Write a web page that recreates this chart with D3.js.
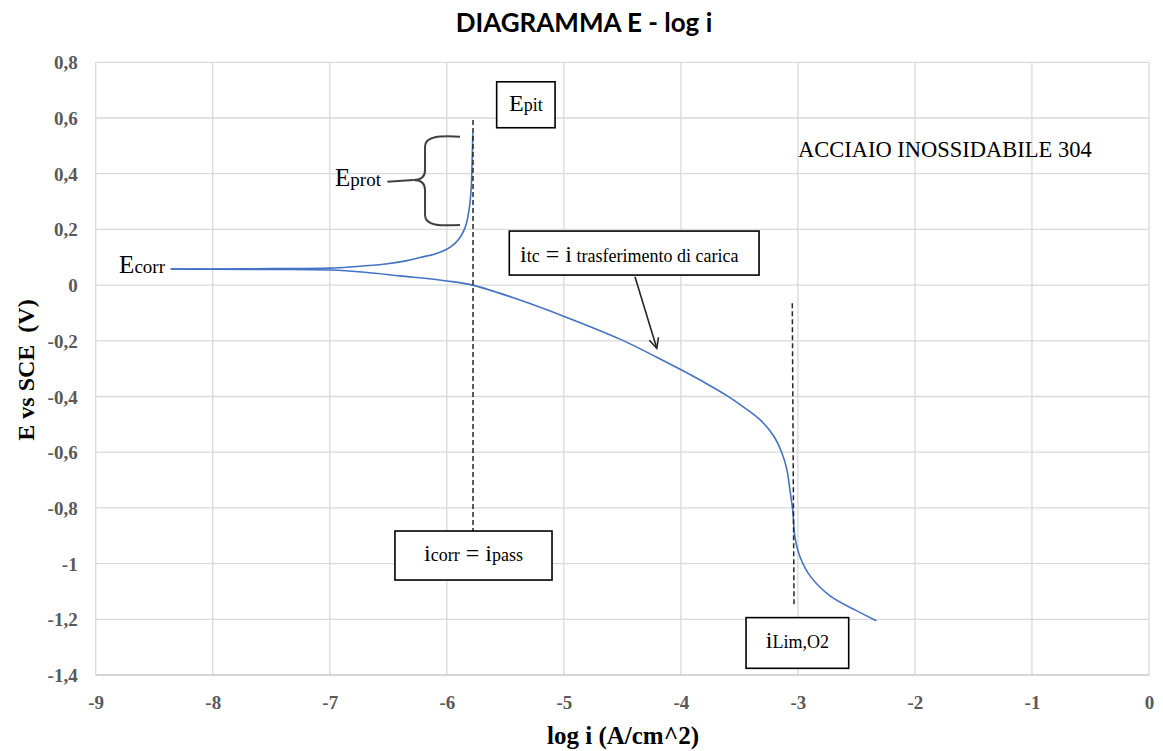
<!DOCTYPE html>
<html>
<head>
<meta charset="utf-8">
<script src="https://cdn.jsdelivr.net/npm/d3@7"></script>
<style>
  html, body { margin: 0; padding: 0; background: #ffffff; }
  svg { display: block; }
</style>
</head>
<body>
<svg id="chart" width="1163" height="751"></svg>
<script>
// ---------------- DATA ----------------
const xTicks = [-9, -8, -7, -6, -5, -4, -3, -2, -1, 0];
const yTicks = [0.8, 0.6, 0.4, 0.2, 0, -0.2, -0.4, -0.6, -0.8, -1, -1.2, -1.4];

// anodic branch (log i, E)
const anodicLogI = [-8.36, -8.0, -7.5, -7.0, -6.8, -6.54, -6.35, -6.23, -6.1, -6.0, -5.93, -5.887, -5.85, -5.83, -5.81, -5.80, -5.79, -5.787, -5.782, -5.778];
const anodicE    = [0.058, 0.058, 0.059, 0.061, 0.066, 0.075, 0.087, 0.099, 0.112, 0.129, 0.150, 0.171, 0.200, 0.225, 0.270, 0.303, 0.360, 0.399, 0.470, 0.545];

// cathodic branch (log i, E)
const cathodicLogI = [-8.36, -8.0, -7.5, -7.0, -6.7, -6.4, -6.0, -5.78, -5.4, -4.975, -4.52, -4.21, -3.99, -3.78, -3.61, -3.467, -3.32, -3.21, -3.138, -3.095, -3.067, -3.044, -3.025, -2.98, -2.896, -2.725, -2.5, -2.33];
const cathodicE    = [0.058, 0.057, 0.056, 0.054, 0.046, 0.033, 0.015, 0.0, -0.05, -0.116, -0.194, -0.258, -0.306, -0.354, -0.396, -0.437, -0.485, -0.540, -0.601, -0.661, -0.739, -0.81, -0.906, -0.978, -1.044, -1.116, -1.169, -1.205];

// reference lines
const passLineLogI = -5.776, passLineTop = 0.593, passLineBottom = -0.883;
const limLineLogI = [-3.048, -3.033], limLineE = [-0.065, -1.155];

// texts
const titleText = "DIAGRAMMA E - log i";
const xTitle = "log i (A/cm^2)";
const yTitle = "E vs SCE  (V)";
const materialText = "ACCIAIO INOSSIDABILE 304";

// ---------------- LAYOUT ----------------
const svg = d3.select("#chart");
const plot = { left: 95.7, right: 1149, top: 62.3, bottom: 675 };

const x = d3.scaleLinear().domain([-9, 0]).range([plot.left, plot.right]);
const y = d3.scaleLinear().domain([-1.4, 0.8]).range([plot.bottom, plot.top]);

const fmtY = v => String(Math.round(v * 10) / 10).replace(".", ",");
const fmtX = v => String(v);

const serif = "'Liberation Serif', 'Times New Roman', serif";

// gridlines
const grid = svg.append("g");
grid.selectAll("line.v").data(xTicks).join("line")
  .attr("x1", d => x(d)).attr("x2", d => x(d))
  .attr("y1", plot.top).attr("y2", plot.bottom)
  .attr("stroke", "#d9d9d9").attr("stroke-width", 1.3);
grid.selectAll("line.h").data(yTicks).join("line")
  .attr("x1", plot.left).attr("x2", plot.right)
  .attr("y1", d => y(d)).attr("y2", d => y(d))
  .attr("stroke", d => d === -1.4 ? "#c8c8c8" : "#d9d9d9").attr("stroke-width", 1.3);

// axes via d3 axis (labels only)
const xAxis = d3.axisBottom(x).tickValues(xTicks).tickSize(0).tickPadding(0).tickFormat(fmtX);
const gx = svg.append("g").attr("transform", `translate(0,${plot.bottom})`).call(xAxis);
gx.select(".domain").remove();
gx.selectAll("text")
  .attr("y", 34).attr("dy", 0)
  .attr("font-family", serif).attr("font-weight", "bold").attr("font-size", 19)
  .attr("fill", "#595959");

const yAxis = d3.axisLeft(y).tickValues(yTicks).tickSize(0).tickPadding(0).tickFormat(fmtY);
const gy = svg.append("g").attr("transform", `translate(${plot.left},0)`).call(yAxis);
gy.select(".domain").remove();
gy.selectAll("text")
  .attr("x", -18).attr("dy", 6.5)
  .attr("font-family", serif).attr("font-weight", "bold").attr("font-size", 19)
  .attr("fill", "#595959");

// title
svg.append("text")
  .attr("x", 584).attr("y", 32)
  .attr("text-anchor", "middle")
  .attr("font-family", "Lato, 'Open Sans', sans-serif").attr("font-weight", "bold")
  .attr("font-size", 26).attr("fill", "#000")
  .text(titleText);

// axis titles
svg.append("text")
  .attr("x", 623).attr("y", 744)
  .attr("text-anchor", "middle")
  .attr("font-family", serif).attr("font-weight", "bold").attr("font-size", 25)
  .attr("fill", "#000")
  .text(xTitle);

svg.append("text")
  .attr("transform", "translate(34,370) rotate(-90)")
  .attr("text-anchor", "middle")
  .attr("font-family", serif).attr("font-weight", "bold").attr("font-size", 24)
  .attr("fill", "#000")
  .attr("xml:space", "preserve")
  .style("white-space", "pre")
  .text(yTitle);

// ---------------- CURVES ----------------
const line = d3.line().x(d => x(d[0])).y(d => y(d[1])).curve(d3.curveCatmullRom.alpha(0.5));
const anodic = anodicLogI.map((v, i) => [v, anodicE[i]]);
const cathodic = cathodicLogI.map((v, i) => [v, cathodicE[i]]);

svg.append("path").datum(cathodic).attr("d", line)
  .attr("fill", "none").attr("stroke", "#4472C4").attr("stroke-width", 1.6);
svg.append("path").datum(anodic).attr("d", line)
  .attr("fill", "none").attr("stroke", "#4472C4").attr("stroke-width", 1.6);

// ---------------- ANNOTATIONS ----------------
const ann = svg.append("g");

// dashed lines
ann.append("line")
  .attr("x1", x(passLineLogI)).attr("x2", x(passLineLogI))
  .attr("y1", y(passLineTop)).attr("y2", y(passLineBottom))
  .attr("stroke", "#262626").attr("stroke-width", 1.5).attr("stroke-dasharray", "5,3");
ann.append("line")
  .attr("x1", x(limLineLogI[0])).attr("x2", x(limLineLogI[1]))
  .attr("y1", y(limLineE[0])).attr("y2", y(limLineE[1]))
  .attr("stroke", "#262626").attr("stroke-width", 1.5).attr("stroke-dasharray", "5,3");

// helper for mixed-size text
function richText(g, px, py, parts, anchor) {
  const t = g.append("text").attr("x", px).attr("y", py)
    .attr("font-family", serif).attr("fill", "#000")
    .attr("text-anchor", anchor || "start")
    .attr("xml:space", "preserve").style("white-space", "pre");
  parts.forEach(p => t.append("tspan").attr("font-size", p[1]).text(p[0]));
  return t;
}
function box(g, x0, y0, x1, y1) {
  g.append("rect")
    .attr("x", x(x0)).attr("y", y(y0))
    .attr("width", x(x1) - x(x0)).attr("height", y(y1) - y(y0))
    .attr("fill", "#fff").attr("stroke", "#000").attr("stroke-width", 1.6);
}

const BIG = 24, SMALL = 18;

// Ecorr
richText(ann, x(-8.408), y(0.0445), [["E", BIG + 1], ["corr", SMALL + 1]], "end");

// Eprot label + leader + brace
richText(ann, x(-6.955), y(0.356), [["E", BIG + 1], ["prot", SMALL + 1]]);
ann.append("line")
  .attr("x1", x(-6.508)).attr("y1", y(0.371))
  .attr("x2", x(-6.286)).attr("y2", y(0.377))
  .attr("stroke", "#404040").attr("stroke-width", 2);
{
  const xr = x(-5.887), xs = x(-6.186), xt = x(-6.286);
  const yt = y(0.533), ym = y(0.377), yb = y(0.216);
  const p = d3.path();
  p.moveTo(xr, yt);
  p.bezierCurveTo(xr - 20, yt - 1, xs, yt - 1, xs, yt + 10);
  p.lineTo(xs, ym - 10);
  p.bezierCurveTo(xs, ym - 3, xs - 4, ym, xt, ym);
  p.bezierCurveTo(xs - 4, ym, xs, ym + 3, xs, ym + 10);
  p.lineTo(xs, yb - 10);
  p.bezierCurveTo(xs, yb + 1, xr - 20, yb + 1, xr, yb);
  ann.append("path").attr("d", p.toString())
    .attr("fill", "none").attr("stroke", "#404040").attr("stroke-width", 2);
}

// Epit box
box(ann, -5.574, 0.730, -5.075, 0.565);
richText(ann, (x(-5.574) + x(-5.075)) / 2, y(0.626), [["E", BIG], ["pit", SMALL]], "middle");

// itc box + arrow
box(ann, -5.466, 0.194, -3.332, 0.036);
richText(ann, x(-5.374), y(0.084), [["i", BIG], ["tc", SMALL], [" = ", BIG], ["i", BIG], [" trasferimento di carica", SMALL]]);
{
  const x0 = x(-4.392), y0 = y(0.030), x1 = x(-4.206), y1 = y(-0.227);
  const ang = Math.atan2(y1 - y0, x1 - x0), L = 11, a = 0.45;
  ann.append("line").attr("x1", x0).attr("y1", y0).attr("x2", x1).attr("y2", y1)
    .attr("stroke", "#262626").attr("stroke-width", 1.6);
  ann.append("path")
    .attr("d", `M${x1 - L * Math.cos(ang - a)},${y1 - L * Math.sin(ang - a)} L${x1},${y1} L${x1 - L * Math.cos(ang + a)},${y1 - L * Math.sin(ang + a)}`)
    .attr("fill", "none").attr("stroke", "#262626").attr("stroke-width", 1.6);
}

// icorr = ipass box
box(ann, -6.443, -0.883, -5.101, -1.059);
richText(ann, (x(-6.443) + x(-5.101)) / 2, y(-0.990), [["i", BIG], ["corr", SMALL], [" = ", BIG], ["i", BIG], ["pass", SMALL]], "middle");

// iLim,O2 box
box(ann, -3.443, -1.194, -2.566, -1.376);
richText(ann, (x(-3.443) + x(-2.566)) / 2, y(-1.302), [["i", BIG], ["Lim,O2", SMALL]], "middle");

// material text
ann.append("text")
  .attr("x", x(-3.0)).attr("y", y(0.461))
  .attr("font-family", serif).attr("font-size", 22.5).attr("fill", "#000")
  .text(materialText);
</script>
</body>
</html>
